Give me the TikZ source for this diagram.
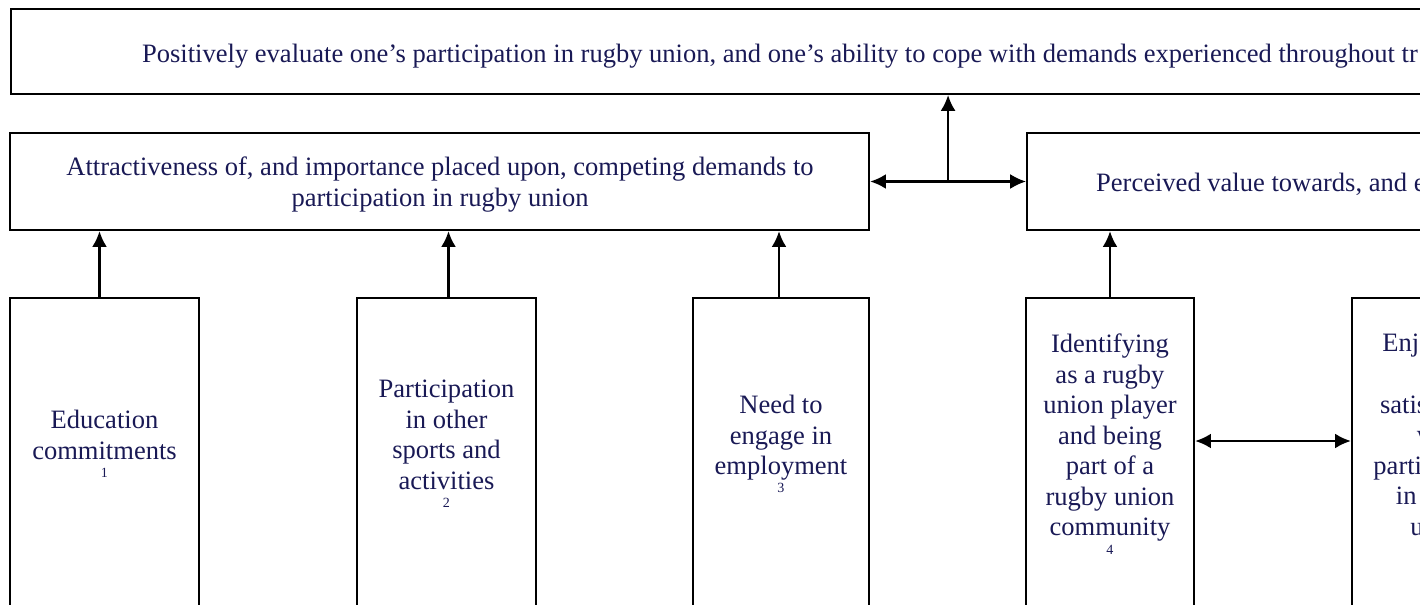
\documentclass[tikz,border=0pt]{standalone}
\usepackage{fontspec}
\setmainfont{Liberation Serif}
\usetikzlibrary{arrows.meta,calc}
\definecolor{navy}{RGB}{25,25,85}
\tikzset{
  box/.style={draw, inner sep=0pt},
  txt/.style={text=navy, align=center, inner sep=0pt, font=\fontsize{15.1}{17.4}\selectfont},
  >={Latex[length=9pt,width=8.5pt]}
}
% small number under a factor
\newcommand{\footnum}[1]{\\[-7pt]{\fontsize{8}{9}\selectfont #1}}

\begin{document}
\begin{tikzpicture}[line width=1.3pt]
\useasboundingbox (0,0) rectangle (28.4,12.08);
\clip (0,0) rectangle (28.4,12.08);
% top level
\node[box, minimum width=29cm, minimum height=1.7cm, anchor=south west] (top) at (0.2,10.18) {};
\node[txt, anchor=west] (toptxt) at (2.82,10.96) {Positively evaluate one’s participation in rugby union, and one’s ability to cope with demands experienced throughout tr};
% middle level
\node[box, minimum width=17.18cm, minimum height=1.94cm] (attract) at (8.79,8.45) {};
\node[txt] (attracttxt) at (8.8,8.39) {Attractiveness of, and importance placed upon, competing demands to\\participation in rugby union};
\node[box, minimum width=9cm, minimum height=1.94cm, anchor=west] (value) at (20.52,8.45) {};
\node[txt, anchor=west] (valuetxt) at (21.9,8.40) {Perceived value towards, and e};
% bottom level
\node[box, minimum width=3.78cm, minimum height=6.64cm, anchor=north] (edu) at (2.09,6.14) {};
\node[box, minimum width=3.58cm, minimum height=6.64cm, anchor=north] (sport) at (8.93,6.14) {};
\node[box, minimum width=3.52cm, minimum height=6.64cm, anchor=north] (work) at (15.62,6.14) {};
\node[box, minimum width=3.36cm, minimum height=6.64cm, anchor=north] (ident) at (22.2,6.14) {};
\node[box, minimum width=3.4cm, minimum height=6.64cm, anchor=north] (enjoy) at (28.74,6.14) {};
\node[txt] (edutxt) at (2.09,3.2) {Education\\commitments\footnum{1}};
\node[txt] (sporttxt) at (8.93,3.2) {Participation\\in other\\sports and\\activities\footnum{2}};
\node[txt] (worktxt) at (15.62,3.2) {Need to\\engage in\\employment\footnum{3}};
\node[txt] (identtxt) at (22.2,3.2) {Identifying\\as a rugby\\union player\\and being\\part of a\\rugby union\\community\footnum{4}};
\node[txt] (enjoytxt) at (28.81,3.2) {Enjoyment\\and\\satisfaction\\with\\participation\\in rugby\\union\footnum{5}};
% arrows
\draw[->] ([xshift=-0.1cm]edu.north) -- ([xshift=-0.1cm]edu.north |- attract.south);
\draw[->] ([xshift=0.04cm]sport.north) -- ([xshift=0.04cm]sport.north |- attract.south);
\draw[->] ([xshift=-0.04cm]work.north) -- ([xshift=-0.04cm]work.north |- attract.south);
\draw[->] (ident.north) -- (ident.north |- value.south);
\draw[<->] (attract.east) -- (value.west);
\coordinate (mid) at ($(attract.east)!0.5!(value.west)$);
\draw[->] (mid) -- (mid |- top.south);
\draw[<->] (ident.east |- 0,3.26) -- (enjoy.west |- 0,3.26);
\end{tikzpicture}
\end{document}
